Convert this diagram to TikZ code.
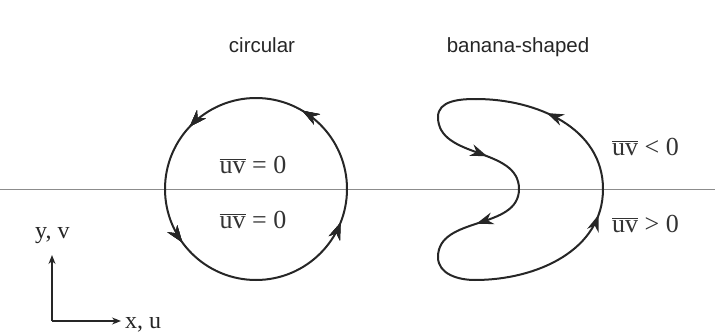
\documentclass[tikz,border=0pt]{standalone}
\usepackage{fontspec}
\setmainfont{Liberation Serif}
\newfontfamily\titlefont{Liberation Sans}
\usetikzlibrary{arrows.meta,decorations.markings}
\tikzset{
  curve/.style={line width=2pt, draw=black!85},
  arrowtip/.tip={Stealth[length=17pt,width=12pt,inset=5.5pt]},
  midarrow/.style={postaction={decorate}, decoration={markings, mark=at position #1 with {\arrow{arrowtip}}}},
  title/.style={font=\titlefont\fontsize{20.5}{24}\selectfont, text=black!85, anchor=base},
  lab/.style={font=\fontsize{26}{30}\selectfont, text=black!80, anchor=base, inner sep=0pt},
  axlab/.style={font=\fontsize{24}{28}\selectfont, text=black!85, anchor=base west, inner sep=0pt},
  axis/.style={line width=1.3pt, draw=black!85, -{Stealth[length=9pt,width=7pt]}},
}
\newcommand{\uvbar}{$\overline{\mbox{uv}}$}
\begin{document}
\begin{tikzpicture}[x=1pt,y=1pt]
\useasboundingbox (0,0) rectangle (715,333);
% horizontal reference line
\coordinate (hl) at (0,144);
\coordinate (hr) at (715,144);
\draw[line width=1pt, draw=black!45] (hl) -- (hr);
% titles
\node[title] (tc) at (262,280) {circular};
\node[title] (tb) at (518,280) {banana-shaped};
% circular orbit
\coordinate (C) at (256,144);
\coordinate (Cs) at (347,144);
\draw[curve, midarrow=0.165, midarrow=0.38, midarrow=0.6, midarrow=0.94]
  (Cs) arc[start angle=0, end angle=360, radius=91];
\node[lab] (l1) at (253,160) {\uvbar\ = 0};
\node[lab] (l2) at (253,105) {\uvbar\ = 0};
% banana orbit
\coordinate (R) at (603,144);
\coordinate (U) at (476,234);
\coordinate (L1) at (438,216);
\coordinate (T) at (519,144);
\coordinate (L2) at (438,76);
\coordinate (B) at (475,53);
\draw[curve, midarrow=0.58] (R) to[out=90,in=0] (U);
\draw[curve] (U) to[out=180,in=90] (L1);
\draw[curve, midarrow=0.58] (L1) to[out=-90,in=90] (T);
\draw[curve, midarrow=0.52] (T) to[out=-90,in=90] (L2);
\draw[curve] (L2) to[out=-90,in=180] (B);
\draw[curve, midarrow=0.85] (B) to[out=0,in=-90] (R);
\node[lab, anchor=base west] (l3) at (612,178) {\uvbar\ < 0};
\node[lab, anchor=base west] (l4) at (612,101) {\uvbar\ > 0};
% axes
\coordinate (O) at (52,12);
\coordinate (Y) at (52,78);
\coordinate (X) at (121,12);
\draw[axis] (O) -- (Y);
\draw[axis] (O) -- (X);
\node[axlab] (ly) at (35,95) {y, v};
\node[axlab] (lx) at (125,5) {x, u};
\end{tikzpicture}
\end{document}
